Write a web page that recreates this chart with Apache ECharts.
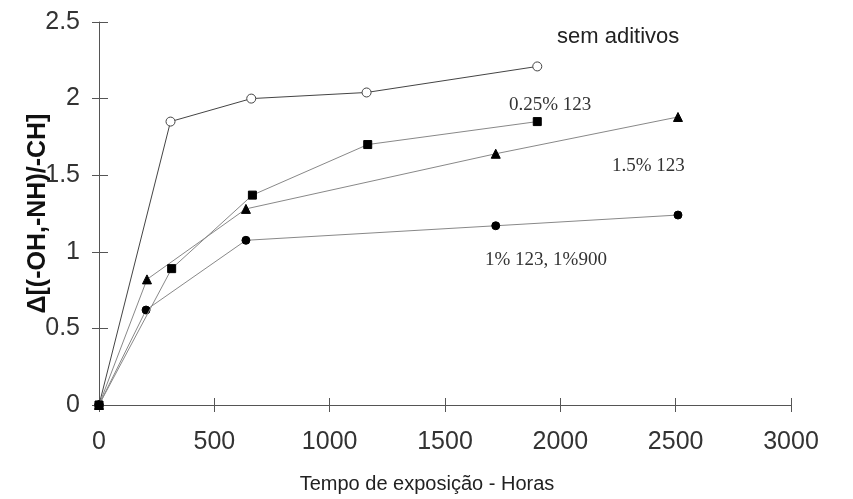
<!DOCTYPE html>
<html><head><meta charset="utf-8">
<script src="https://cdn.jsdelivr.net/npm/echarts@6/dist/echarts.min.js"></script>
<style>html,body{margin:0;padding:0;background:#fff}#c{width:853px;height:499px}</style>
</head><body><div id="c"></div>
<script>
const xTicks = [0, 500, 1000, 1500, 2000, 2500, 3000];
const yTicks = [0, 0.5, 1, 1.5, 2, 2.5];
const semAditivosX = [0, 310, 660, 1160, 1900];
const semAditivosY = [0, 1.85, 2.0, 2.04, 2.21];
const p025X = [0, 315, 665, 1165, 1900];
const p025Y = [0, 0.89, 1.37, 1.70, 1.85];
const p15X = [0, 208, 637, 1720, 2510];
const p15Y = [0, 0.82, 1.28, 1.64, 1.88];
const p1X = [0, 204, 637, 1720, 2510];
const p1Y = [0, 0.62, 1.075, 1.17, 1.24];
const seriesNames = ['sem aditivos', '0.25% 123', '1.5% 123', '1% 123, 1%900'];

const pair = (xs, ys) => xs.map((x, i) => [x, ys[i]]);
const chart = echarts.init(document.getElementById('c'));
const axisColor = '#555';
const labelFont = {fontFamily: 'Liberation Sans, Arial, sans-serif', fontSize: 25, color: '#333'};
function lineSeries(name, data, symbol, size, lineColor, fill, border, z) {
  return {
    name, type: 'line', data, symbol, symbolSize: size,
    lineStyle: {color: lineColor, width: 1},
    itemStyle: {color: fill, borderColor: border, borderWidth: 1},
    z
  };
}
const option = {
  animation: false,
  backgroundColor: '#fff',
  grid: {left: 99, right: 62, top: 22, bottom: 91},
  xAxis: [{
    type: 'value', min: xTicks[0], max: xTicks[xTicks.length - 1], interval: xTicks[1] - xTicks[0],
    axisLine: {show: true, lineStyle: {color: axisColor, width: 1}},
    axisTick: {show: true, length: 7, inside: false, lineStyle: {color: axisColor}},
    axisLabel: {...labelFont, margin: 25, formatter: v => String(v)},
    splitLine: {show: false},
    name: 'Tempo de exposição - Horas', nameLocation: 'middle', nameGap: 69, nameMoveOverlap: false,
    nameTextStyle: {fontFamily: 'Liberation Sans, Arial, sans-serif', fontSize: 20, color: '#222', padding: [0, 36, 0, 0]}
  }, {
    type: 'value', min: xTicks[0], max: xTicks[xTicks.length - 1], interval: xTicks[1] - xTicks[0], position: 'bottom',
    axisLine: {show: false}, axisLabel: {show: false}, splitLine: {show: false},
    axisTick: {show: true, length: 7, inside: true, lineStyle: {color: axisColor}}
  }],
  yAxis: [{
    type: 'value', min: yTicks[0], max: yTicks[yTicks.length - 1], interval: yTicks[1] - yTicks[0],
    axisLine: {show: true, lineStyle: {color: axisColor, width: 1}},
    axisTick: {show: true, length: 7, inside: false, lineStyle: {color: axisColor}},
    axisLabel: {...labelFont, margin: 19, formatter: v => String(v)},
    splitLine: {show: false},
    name: 'Δ[(-OH,-NH)/-CH]', nameLocation: 'middle', nameGap: 48, nameRotate: 90, nameMoveOverlap: false,
    nameTextStyle: {fontFamily: 'Liberation Sans, Arial, sans-serif', fontSize: 25, fontWeight: 'bold', color: '#111'}
  }, {
    type: 'value', min: yTicks[0], max: yTicks[yTicks.length - 1], interval: yTicks[1] - yTicks[0], position: 'left',
    axisLine: {show: false}, axisLabel: {show: false}, splitLine: {show: false},
    axisTick: {show: true, length: 9, inside: true, lineStyle: {color: axisColor}}
  }],
  series: [
    lineSeries(seriesNames[0], pair(semAditivosX, semAditivosY), 'circle', 9, '#444', '#fff', '#444', 3),
    lineSeries(seriesNames[1], pair(p025X, p025Y), 'rect', 8, '#888', '#000', '#000', 6),
    lineSeries(seriesNames[2], pair(p15X, p15Y), 'triangle', 9, '#888', '#000', '#000', 4),
    lineSeries(seriesNames[3], pair(p1X, p1Y), 'circle', 8, '#888', '#000', '#000', 5)
  ],
  graphic: [
    {type: 'text', left: 557, top: 26, style: {text: seriesNames[0], font: '22px "Liberation Sans", Arial, sans-serif', fill: '#222'}},
    {type: 'text', left: 509, top: 96, style: {text: seriesNames[1], font: '19px "Liberation Serif", "Times New Roman", serif', fill: '#333'}},
    {type: 'text', left: 612, top: 157, style: {text: seriesNames[2], font: '19px "Liberation Serif", "Times New Roman", serif', fill: '#333'}},
    {type: 'text', left: 485, top: 251, style: {text: seriesNames[3], font: '19px "Liberation Serif", "Times New Roman", serif', fill: '#333'}}
  ]
};
chart.setOption(option);
</script></body></html>
